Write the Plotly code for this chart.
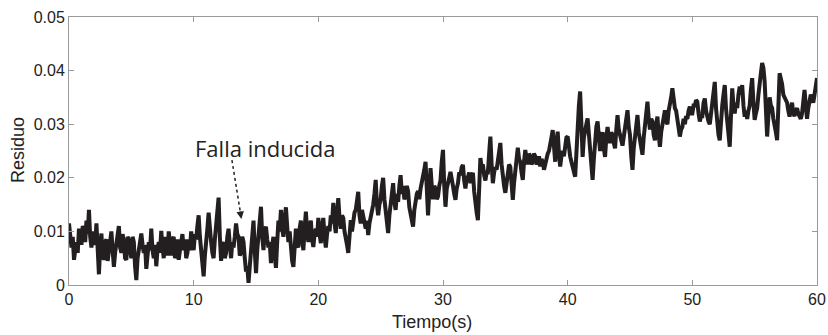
import plotly.graph_objects as go

# Time axis (s), sampled every 0.1 s
tiempo = [round(i * 0.1, 1) for i in range(601)]

# Residual values, in thousandths (one row per second)
residuo_milli = [
    11.5, 8.5, 7.0, 9.0, 4.7, 6.5, 8.0, 6.0, 10.5, 9.0,
    7.5, 11.0, 10.5, 8.0, 12.0, 9.5, 14.0, 9.0, 7.0, 10.0,
    9.0, 7.5, 11.5, 5.5, 2.0, 7.0, 9.6, 5.5, 4.7, 8.0,
    8.5, 4.5, 6.5, 9.0, 10.0, 6.5, 3.4, 6.0, 7.5, 10.0,
    11.0, 7.0, 6.0, 9.5, 8.0, 5.0, 4.7, 9.0, 8.4, 6.5,
    5.0, 9.0, 8.0, 3.5, 0.9, 5.0, 6.5, 8.0, 9.6, 7.5,
    6.0, 7.5, 3.0, 5.5, 8.0, 6.5, 10.5, 6.5, 5.0, 7.5,
    3.5, 6.5, 8.0, 6.0, 10.1, 7.0, 5.0, 9.0, 7.5, 5.5,
    10.0, 7.0, 5.5, 8.5, 9.0, 5.0, 6.0, 8.5, 4.7, 6.5,
    8.5, 9.5, 6.5, 8.5, 5.0, 6.0, 8.5, 6.5, 10.0, 8.0,
    6.5, 9.5, 8.5, 11.0, 13.0, 9.0, 7.0, 4.0, 1.6, 5.5,
    7.5, 10.5, 13.5, 9.5, 8.0, 6.0, 5.0, 8.5, 11.0, 13.5,
    16.3, 9.0, 4.5, 7.5, 8.0, 5.0, 6.0, 9.0, 10.5, 7.5,
    5.0, 8.0, 7.0, 9.0, 11.5, 9.5, 9.0, 5.5, 6.0, 9.0,
    8.0, 5.0, 2.5, 3.5, 0.4, 3.5, 6.0, 10.0, 12.0, 6.5,
    2.2, 6.5, 9.0, 12.5, 14.6, 9.0, 6.5, 10.0, 10.9, 8.5,
    7.0, 8.0, 4.1, 7.5, 9.0, 5.5, 3.2, 8.0, 12.0, 10.0,
    14.0, 10.5, 9.0, 12.5, 14.5, 11.0, 8.0, 10.0, 6.0, 4.5,
    3.4, 8.0, 10.5, 7.5, 7.0, 10.5, 12.0, 8.5, 6.5, 10.5,
    13.7, 10.0, 8.0, 11.0, 12.0, 8.5, 7.1, 9.5, 10.5, 9.0,
    12.5, 9.5, 7.8, 11.0, 12.5, 9.0, 7.0, 9.5, 11.0, 10.0,
    13.0, 11.5, 15.3, 11.5, 9.7, 13.5, 16.2, 12.5, 10.5, 13.0,
    12.5, 10.0, 9.0, 7.5, 6.0, 10.0, 12.1, 10.0, 12.0, 13.5,
    14.0, 15.5, 17.4, 13.0, 11.5, 14.0, 12.8, 11.0, 10.5, 12.0,
    9.3, 11.5, 12.5, 14.0, 15.0, 17.0, 19.6, 15.0, 13.0, 15.0,
    16.0, 18.5, 20.0, 16.0, 14.0, 12.0, 9.7, 13.0, 15.0, 17.5,
    19.0, 15.5, 14.0, 17.0, 15.5, 18.5, 20.5, 17.0, 18.5, 16.0,
    16.5, 18.5, 17.5, 14.5, 13.5, 12.0, 10.9, 14.0, 15.9, 17.0,
    17.5, 16.0, 18.0, 19.0, 20.0, 21.5, 23.0, 17.0, 13.0, 17.5,
    21.8, 18.5, 16.0, 18.5, 18.0, 16.0, 16.5, 18.5, 19.5, 23.0,
    25.2, 18.5, 14.6, 18.0, 19.5, 20.0, 21.1, 19.0, 18.5, 17.0,
    15.9, 18.0, 19.0, 21.0, 20.5, 22.0, 22.4, 19.5, 18.0, 20.0,
    20.0, 21.0, 19.0, 20.5, 20.9, 17.5, 15.0, 13.5, 12.1, 18.5,
    23.7, 22.0, 22.5, 20.5, 19.5, 21.0, 21.0, 24.5, 27.7, 22.5,
    19.0, 21.0, 22.0, 21.5, 23.5, 25.0, 26.5, 22.5, 19.5, 18.5,
    17.2, 19.5, 21.0, 22.5, 22.0, 18.5, 15.9, 19.0, 21.0, 23.5,
    25.6, 23.5, 23.0, 21.0, 19.6, 23.0, 25.2, 23.5, 22.5, 24.5,
    24.0, 22.5, 23.0, 24.5, 24.0, 22.5, 23.0, 24.0, 22.1, 23.5,
    23.0, 21.5, 22.5, 24.0, 24.5, 25.0, 26.0, 27.5, 28.9, 25.5,
    23.0, 26.5, 28.6, 24.5, 22.1, 24.0, 25.0, 24.0, 26.0, 27.5,
    27.7, 25.0, 24.0, 23.0, 22.1, 21.5, 20.2, 24.5, 30.0, 33.5,
    36.1, 28.5, 23.9, 27.5, 29.5, 30.0, 31.1, 28.0, 26.0, 22.5,
    19.6, 23.5, 27.0, 29.5, 30.5, 27.0, 25.0, 27.5, 28.5, 25.5,
    23.9, 27.5, 29.5, 27.5, 26.5, 28.5, 28.0, 26.5, 25.5, 29.0,
    31.7, 29.0, 27.5, 27.0, 26.0, 28.0, 29.0, 31.5, 32.6, 29.5,
    28.0, 24.0, 21.5, 25.5, 28.0, 30.5, 31.7, 28.5, 27.0, 25.5,
    24.3, 27.5, 30.0, 32.0, 34.2, 31.0, 29.0, 31.0, 30.5, 28.0,
    27.0, 30.0, 31.4, 28.0, 25.8, 28.5, 30.0, 31.0, 32.6, 30.5,
    30.0, 32.5, 33.5, 35.0, 36.7, 34.0, 33.0, 32.5, 31.0, 29.5,
    27.7, 29.0, 29.5, 31.0, 30.0, 31.5, 31.0, 32.5, 33.3, 32.0,
    32.0, 33.5, 33.5, 34.5, 34.2, 32.0, 30.5, 31.5, 31.5, 34.0,
    34.8, 32.5, 31.0, 30.5, 30.0, 32.0, 33.0, 35.5, 37.9, 33.0,
    29.0, 28.0, 27.0, 31.0, 33.5, 35.5, 37.3, 33.0, 30.0, 27.5,
    25.8, 31.5, 36.7, 33.5, 32.0, 34.0, 33.0, 35.5, 37.0, 35.5,
    37.3, 33.5, 31.4, 32.5, 31.0, 32.5, 33.5, 36.5, 38.6, 34.0,
    30.8, 32.0, 33.0, 35.5, 37.0, 39.5, 41.4, 40.5, 38.0, 32.5,
    27.7, 31.5, 35.0, 33.5, 33.0, 31.0, 30.0, 28.5, 27.0, 33.5,
    39.5, 38.5, 37.5, 35.5, 35.0, 34.5, 34.0, 32.5, 31.4, 33.0,
    34.0, 32.0, 31.5, 32.5, 33.0, 32.0, 31.5, 31.0, 32.0, 34.5,
    36.4, 33.5, 31.0, 33.0, 34.5, 35.5, 35.0, 34.0, 35.5, 37.0,
    38.6,
]
residuo = [v / 1000 for v in residuo_milli]

x_ticks = [0, 10, 20, 30, 40, 50, 60]
y_ticks = [0, 0.01, 0.02, 0.03, 0.04, 0.05]
y_tick_labels = ["0", "0.01", "0.02", "0.03", "0.04", "0.05"]

font_family = "Liberation Sans, Arial, sans-serif"
axis_gray = "#9a9a9a"

fig = go.Figure()
fig.add_trace(go.Scatter(
    x=tiempo, y=residuo, mode="lines",
    line=dict(color="#231f20", width=4),
    showlegend=False, hoverinfo="skip",
))

axis_common = dict(
    showgrid=False, zeroline=False, showline=True, mirror="ticks",
    linecolor=axis_gray, linewidth=1, ticks="inside", ticklen=5,
    tickcolor=axis_gray, tickwidth=1, automargin=False,
    tickfont=dict(family=font_family, size=16, color="#222222"),
)

fig.update_layout(
    width=828, height=335,
    margin=dict(l=69, r=11, t=17, b=50),
    paper_bgcolor="white", plot_bgcolor="white",
    xaxis=dict(range=[0, 60], tickvals=x_ticks, **axis_common),
    yaxis=dict(range=[0, 0.05], tickvals=y_ticks, ticktext=y_tick_labels, **axis_common),
)

# Axis titles
fig.add_annotation(text="Tiempo(s)", xref="paper", yref="paper", x=0.485, y=-0.138,
                   showarrow=False, xanchor="center", yanchor="middle",
                   font=dict(family=font_family, size=18, color="#222222"))
fig.add_annotation(text="Residuo", xref="paper", yref="paper", x=-0.068, y=0.504,
                   showarrow=False, textangle=-90, xanchor="center", yanchor="middle",
                   font=dict(family=font_family, size=18, color="#222222"))

# "Falla inducida" label with dotted arrow
fig.add_annotation(text="Falla inducida", xref="x", yref="y", x=15.72, y=0.0255,
                   showarrow=False, xanchor="center", yanchor="middle",
                   font=dict(family="Open Sans, sans-serif", size=22, color="#222222"))
fig.add_shape(type="line", xref="x", yref="y", x0=13.07, y0=0.0233, x1=13.8, y1=0.0128,
              line=dict(color="#222222", width=1.5, dash="dot"))
fig.add_annotation(text="", xref="x", yref="y", x=13.83, y=0.0123,
                   ax=-1.5, ay=-9, showarrow=True, arrowhead=2, arrowsize=1,
                   arrowwidth=1.5, arrowcolor="#222222")

fig.write_html("out.html", config={"displayModeBar": False},
               post_script="document.body.style.margin='0';")
